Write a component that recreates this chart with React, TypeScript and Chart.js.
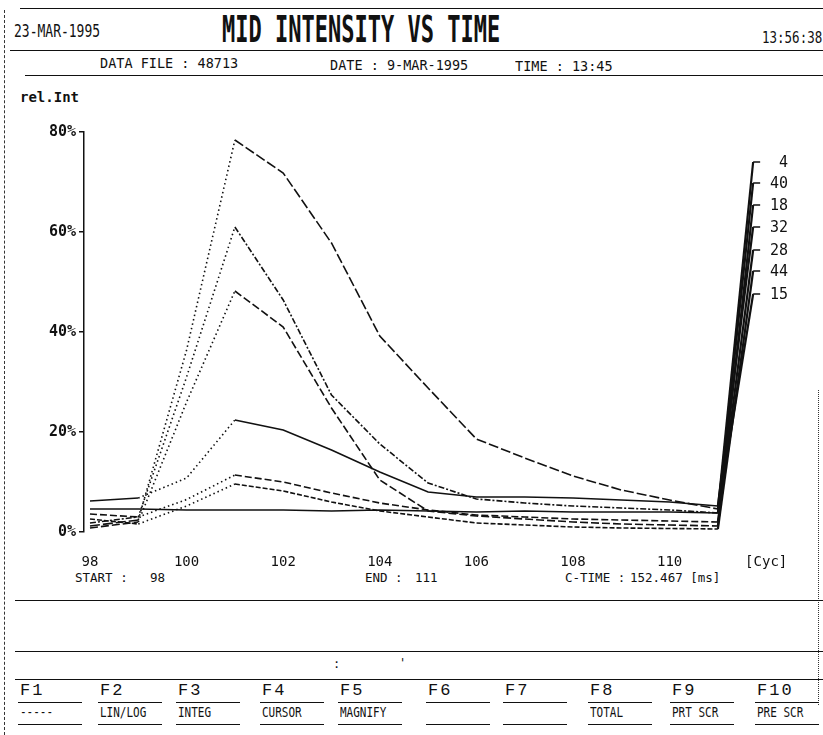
import React, { useEffect, useRef } from "react";
import { Chart, registerables } from "chart.js";
Chart.register(...registerables);

// ---------- data ----------
const cycles = [98, 99, 100, 101, 102, 103, 104, 105, 106, 107, 108, 109, 110, 111];
const seriesNames = ["4", "40", "18", "32", "28", "44", "15"];
const s4 = [1.2, 2.4, 36.4, 78.4, 71.8, 57.8, 39.2, 28.8, 18.6, 14.8, 11.2, 8.4, 6.4, 4.6];
const s40 = [1.8, 3.0, 31.0, 61.0, 46.4, 27.4, 17.6, 9.8, 6.6, 5.8, 5.2, 4.8, 4.4, 3.8];
const s18 = [0.8, 2.0, 26.0, 48.2, 41.0, 24.8, 10.4, 4.2, 3.2, 2.6, 2.0, 1.6, 1.4, 1.2];
const s32 = [6.2, 6.8, 10.8, 22.4, 20.4, 16.4, 12.0, 8.0, 7.0, 7.0, 6.8, 6.4, 6.0, 5.2];
const s28 = [3.6, 3.0, 6.5, 11.4, 10.0, 7.8, 5.8, 4.4, 3.4, 3.0, 2.6, 2.4, 2.2, 2.0];
const s44 = [2.6, 1.6, 5.2, 9.6, 8.2, 6.0, 4.2, 3.0, 1.8, 1.4, 1.0, 0.8, 0.7, 0.6];
const s15 = [4.6, 4.6, 4.4, 4.4, 4.4, 4.2, 4.4, 4.2, 4.0, 4.2, 4.0, 4.0, 4.0, 3.8];
const seriesValues = [s4, s40, s18, s32, s28, s44, s15];
// level (in %) where each trace is led out to its label on the right
const legendLevels = [74, 69.8, 65.4, 61, 56.4, 52.2, 47.6];
const legendCycle = 111.73;
const xTickValues = [98, 100, 102, 104, 106, 108, 110];
const xUnitValue = 112.0;
const xUnitLabel = "[Cyc]";
const yTickValues = [0, 20, 40, 60, 80];

const headerDate = "23-MAR-1995";
const title = "MID INTENSITY VS TIME";
const headerTime = "13:56:38";
const dataFile = "DATA FILE : 48713";
const measDate = "DATE : 9-MAR-1995";
const measTime = "TIME : 13:45";
const yUnit = "rel.Int";
const startText = ["START :", "98"];
const endText = ["END :", "111"];
const ctimeText = ["C-TIME :", "152.467 [ms]"];
const fKeys = ["F1", "F2", "F3", "F4", "F5", "F6", "F7", "F8", "F9", "F10"];
const fLabels = ["-----", "LIN/LOG", "INTEG", "CURSOR", "MAGNIFY", "", "", "TOTAL", "PRT SCR", "PRE SCR"];

// ---------- styles ----------
const dashes = [[10, 3], [6, 2, 2, 2], [8, 3], [], [7, 3], [5, 2], []];
const MONO = "'DejaVu Sans Mono', 'Liberation Mono', monospace";
const fKeyX = [18, 98, 176, 260, 338, 426, 503, 588, 670, 755];

function T(props: { x: number; y: number; size: number; sy?: number; children: any; weight?: number; family?: string; ls?: number }) {
  const { x, y, size, sy = 1, children, weight = 400, family = MONO, ls = 0 } = props;
  return (
    <div
      style={{
        position: "absolute",
        left: x,
        top: y,
        fontFamily: family,
        fontSize: size,
        lineHeight: 1,
        fontWeight: weight,
        whiteSpace: "pre",
        letterSpacing: ls,
        color: "#111",
        transform: `scaleY(${sy})`,
        transformOrigin: "left center",
      }}
    >
      {children}
    </div>
  );
}

function HLine(props: { x1: number; x2: number; y: number; w?: number; style?: string }) {
  const { x1, x2, y, w = 1.5, style = "solid" } = props;
  return <div style={{ position: "absolute", left: x1, top: y, width: x2 - x1, height: 0, borderTop: `${w}px ${style} #111` }} />;
}
function VLine(props: { x: number; y1: number; y2: number; w?: number; style?: string }) {
  const { x, y1, y2, w = 1, style = "dashed" } = props;
  return <div style={{ position: "absolute", left: x, top: y1, height: y2 - y1, width: 0, borderLeft: `${w}px ${style} #333` }} />;
}

const legendPlugin = {
  id: "traceLabels",
  afterDatasetsDraw(chart: any) {
    const ctx = chart.ctx;
    ctx.save();
    ctx.strokeStyle = "#111";
    ctx.fillStyle = "#111";
    ctx.lineWidth = 1.5;
    ctx.font = `15px ${MONO}`;
    ctx.textAlign = "right";
    ctx.textBaseline = "middle";
    chart.data.datasets.forEach((ds: any, i: number) => {
      const meta = chart.getDatasetMeta(i);
      const pt = meta.data[meta.data.length - 1];
      if (!pt) return;
      ctx.beginPath();
      ctx.moveTo(pt.x, pt.y);
      ctx.lineTo(pt.x + 7, pt.y);
      ctx.stroke();
      ctx.fillText(ds.label, pt.x + 35, pt.y + 1);
    });
    ctx.restore();
  },
};

export default function App() {
  const ref = useRef<HTMLCanvasElement | null>(null);
  useEffect(() => {
    if (!ref.current) return;
    const datasets = seriesValues.map((vals, i) => {
      const pts = cycles.map((c, k) => ({ x: c, y: vals[k] }));
      pts.push({ x: legendCycle, y: legendLevels[i] });
      const base = dashes[i];
      return {
        label: seriesNames[i],
        data: pts,
        borderColor: "#111",
        borderWidth: 1.6,
        pointRadius: 0,
        tension: 0,
        fill: false,
        segment: {
          borderDash: (c: any) => {
            if (c.p1DataIndex === cycles.length) return [];
            if (c.p1.parsed.y - c.p0.parsed.y > 2.5) return [1.5, 3];
            return base;
          },
          borderWidth: (c: any) => (c.p1DataIndex === cycles.length ? 2.2 : 1.6),
        },
      };
    });
    const chart = new Chart(ref.current, {
      type: "line",
      data: { datasets },
      plugins: [legendPlugin],
      options: {
        animation: false,
        responsive: false,
        devicePixelRatio: 1,
        layout: { padding: { left: 0, top: 132, right: 23, bottom: 163 } },
        plugins: { legend: { display: false }, tooltip: { enabled: false }, title: { display: false } },
        scales: {
          x: {
            type: "linear",
            min: 97.876,
            max: 112.7,
            grid: { display: false, drawTicks: false },
            border: { display: false },
            afterBuildTicks: (s: any) => {
              s.ticks = [...xTickValues, xUnitValue].map((v) => ({ value: v }));
            },
            afterFit: (s: any) => {
              s.height = 40;
            },
            ticks: {
              autoSkip: false,
              maxRotation: 0,
              padding: 22,
              color: "#111",
              font: { family: MONO, size: 14 },
              callback: (v: any) => (v === xUnitValue ? xUnitLabel : String(v)),
            },
          },
          y: {
            min: 0,
            max: 80,
            afterBuildTicks: (s: any) => {
              s.ticks = yTickValues.map((v) => ({ value: v }));
            },
            afterFit: (s: any) => {
              s.width = 84;
            },
            grid: { drawOnChartArea: false, drawTicks: true, tickLength: 5, color: "#111", lineWidth: 1.5 },
            border: { display: true, dash: [2, 3], color: "#111", width: 1.5 },
            ticks: {
              padding: 3,
              color: "#111",
              font: { family: MONO, size: 15, weight: "bold" },
              callback: (v: any) => `${v}%`,
            },
          },
        },
      } as any,
    });
    return () => chart.destroy();
  }, []);

  return (
    <div style={{ position: "absolute", left: 0, top: 0, width: 823, height: 735, background: "#fff", overflow: "hidden" }}>
      {/* frame */}
      <VLine x={4} y1={10} y2={735} />
      <VLine x={818} y1={390} y2={705} style="dotted" />
      <HLine x1={20} x2={823} y={8} w={1.5} />
      <HLine x1={10} x2={823} y={50} w={1.5} />
      <HLine x1={25} x2={823} y={75} w={1.5} />
      <HLine x1={15} x2={823} y={600} w={1.5} />
      <HLine x1={15} x2={823} y={651} w={1.2} />
      <HLine x1={15} x2={823} y={679} w={1.2} />

      {/* header */}
      <T x={14} y={25} size={13} sy={1.3}>{headerDate}</T>
      <T x={222} y={19} size={22} sy={1.7} weight={700}>{title}</T>
      <T x={762} y={32} size={12.5} sy={1.2}>{headerTime}</T>
      <T x={100} y={57} size={13.5} sy={1.1}>{dataFile}</T>
      <T x={330} y={59} size={13.5} sy={1.1}>{measDate}</T>
      <T x={515} y={60} size={13.5} sy={1.1}>{measTime}</T>
      <T x={20} y={90} size={14} weight={700}>{yUnit}</T>

      {/* footer info */}
      <T x={75} y={572} size={12.5}>{startText[0]}</T>
      <T x={150} y={572} size={12.5}>{startText[1]}</T>
      <T x={365} y={572} size={12.5}>{endText[0]}</T>
      <T x={415} y={572} size={12.5}>{endText[1]}</T>
      <T x={565} y={572} size={12.5}>{ctimeText[0]}</T>
      <T x={630} y={572} size={12.5}>{ctimeText[1]}</T>

      <T x={333} y={658} size={12}>:</T>
      <T x={399} y={657} size={12}>'</T>

      {/* function keys */}
      {fKeys.map((k, i) => (
        <T key={k} x={fKeyX[i] + 2} y={682} size={17} family="'Liberation Mono', monospace" ls={2}>{k}</T>
      ))}
      {fKeyX.map((x, i) => (
        <React.Fragment key={"f" + i}>
          <HLine x1={x} x2={x + 64} y={702} w={1.2} />
          <HLine x1={x} x2={x + 64} y={724} w={1.5} />
          <T x={x + 2} y={707} size={11} sy={1.2}>{fLabels[i]}</T>
        </React.Fragment>
      ))}

      <canvas ref={ref} width={823} height={735} style={{ position: "absolute", left: 0, top: 0 }} />
    </div>
  );
}
